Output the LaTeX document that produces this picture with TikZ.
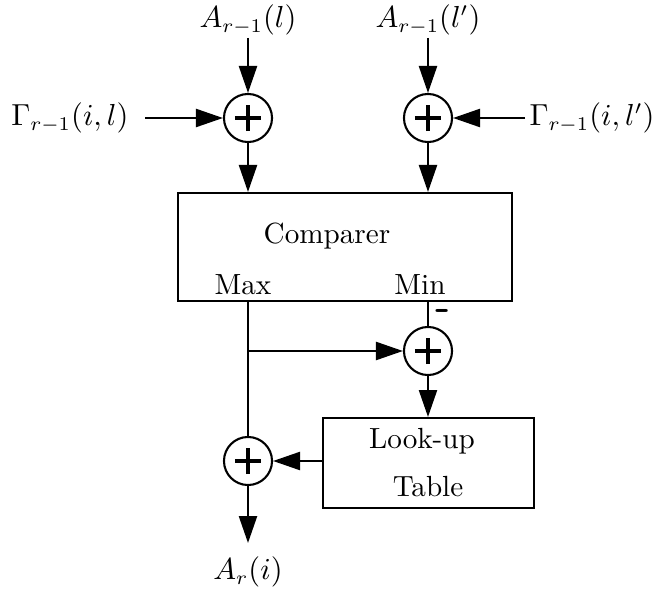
\documentclass[tikz,border=0pt]{standalone}
\usetikzlibrary{arrows.meta}
\begin{document}
\begin{tikzpicture}[x=0.36pt,y=-0.36pt,
  line width=0.75pt,
  font=\fontsize{10.5}{12.5}\selectfont,
  arr/.style={-{Triangle[length=9.7pt,width=6.5pt]}},
  adder/.style={circle,draw,minimum size=17.3pt,inner sep=0pt,
    path picture={\draw[line width=1.6pt]
      ([xshift=-4.7pt]path picture bounding box.center) -- ([xshift=4.7pt]path picture bounding box.center)
      ([yshift=-4.7pt]path picture bounding box.center) -- ([yshift=4.7pt]path picture bounding box.center);}},
  blk/.style={draw,inner sep=0pt}
]
\useasboundingbox (0,0) rectangle (663,594);
% labels
\node (inA) at (248,20) {$A_{r-1}(l)$};
\node (inB) at (428,20) {$A_{r-1}(l')$};
\node (gL) at (70,118) {$\Gamma_{r-1}(i,l)$};
\node (gR) at (592,118) {$\Gamma_{r-1}(i,l')$};
\node (out) at (248,572) {$A_r(i)$};
% adders
\node[adder] (a1) at (248,118) {};
\node[adder] (a2) at (428,118) {};
\node[adder] (a3) at (428,351) {};
\node[adder] (a4) at (248,461) {};
% blocks
\node[blk,minimum width=120.2pt,minimum height=38.9pt] (comp) at (345,247) {};
\node (ctext) at (327,236) {Comparer};
\node (maxt) at (243,285) {Max};
\node (mint) at (420,285) {Min};
\node[blk,minimum width=76pt,minimum height=32.4pt] (lut) at (428.5,463) {};
\node (lt1) at (422,441) {Look-up};
\node (lt2) at (428,487) {Table};
\node[font=\sffamily\bfseries\fontsize{15}{16}\selectfont,inner sep=0pt] (minus) at (443,315) {-};
% coordinates
\coordinate (c1) at (comp.north -| a1);
\coordinate (c2) at (comp.north -| a2);
\coordinate (mx) at (comp.south -| a1);
\coordinate (mn) at (comp.south -| a2);
\coordinate (br) at (a3 -| a1);
\coordinate (st1) at (145,118);
\coordinate (st2) at (525,118);
\coordinate (lt) at (lut.north -| a3);
\coordinate (ob) at (248,543);
% connectors
\draw[arr] (248,38) -- (a1);
\draw[arr] (428,38) -- (a2);
\draw[arr] (st1) -- (a1);
\draw[arr] (st2) -- (a2);
\draw[arr] (a1) -- (c1);
\draw[arr] (a2) -- (c2);
\draw (mx) -- (a4);
\draw (mn) -- (a3);
\draw[arr] (br) -- (a3);
\draw[arr] (a3) -- (lt);
\draw[arr] (lut.west |- a4) -- (a4);
\draw[arr] (a4) -- (ob);
\end{tikzpicture}
\end{document}
